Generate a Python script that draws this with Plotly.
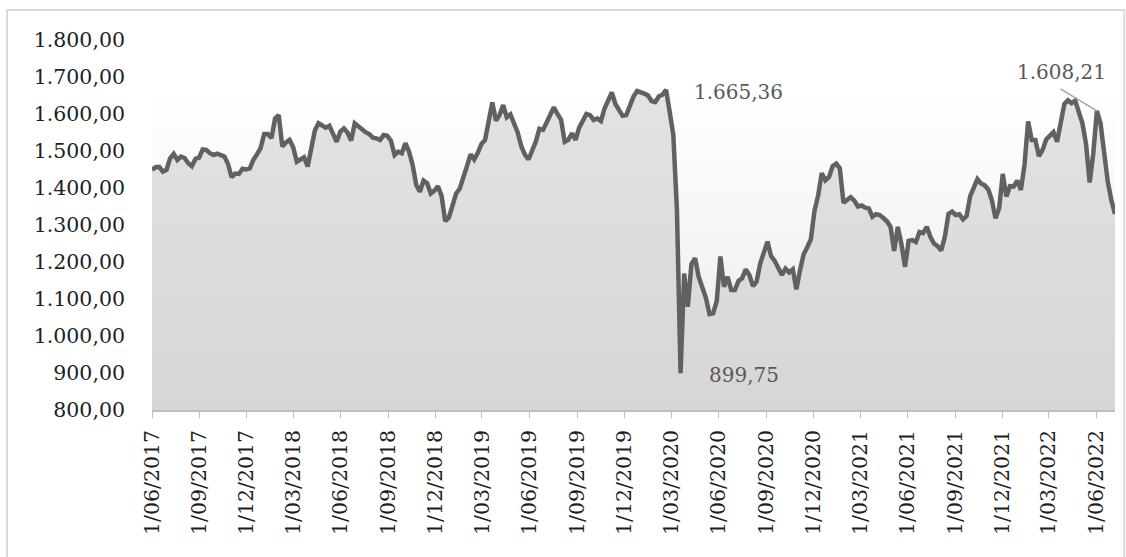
import numpy as np
import pandas as pd
import plotly.graph_objects as go

# Weekly index closes, first observation 1 June 2017
start_date = "2017-06-01"
weekly_close = [
    1449, 1456, 1457, 1444, 1449, 1480, 1492, 1476, 1485, 1481,
    1467, 1459, 1479, 1482, 1504, 1503, 1494, 1489, 1493, 1489,
    1485, 1465, 1429, 1439, 1438, 1452, 1450, 1453, 1476, 1491,
    1508, 1546, 1546, 1535, 1588, 1597, 1512, 1523, 1530, 1510,
    1471, 1477, 1483, 1458, 1516, 1556, 1575, 1569, 1563, 1568,
    1543, 1525, 1552, 1561, 1550, 1528, 1575, 1566, 1557, 1551,
    1546, 1536, 1534, 1530, 1543, 1541, 1528, 1489, 1498, 1494,
    1521, 1498, 1462, 1408, 1390, 1420, 1413, 1385, 1393, 1405,
    1378, 1310, 1320, 1349, 1385, 1398, 1425, 1459, 1491, 1477,
    1495, 1519, 1530, 1579, 1631, 1582, 1597, 1624, 1591, 1599,
    1577, 1550, 1513, 1490, 1477, 1501, 1525, 1560, 1557, 1577,
    1599, 1618, 1600, 1584, 1525, 1530, 1548, 1530, 1563, 1581,
    1600, 1597, 1584, 1588, 1581, 1615, 1636, 1658, 1627, 1613,
    1595, 1597, 1624, 1647, 1662, 1660, 1655, 1650, 1635, 1632,
    1648, 1652, 1665.36, 1606, 1543, 1340, 899.75, 1169, 1079, 1194,
    1210, 1160, 1131, 1103, 1059, 1061, 1095, 1215, 1133, 1160,
    1124, 1124, 1149, 1156, 1180, 1165, 1135, 1147, 1196, 1228,
    1255, 1216, 1203, 1184, 1165, 1182, 1172, 1180, 1126, 1178,
    1221, 1240, 1262, 1339, 1380, 1440, 1421, 1430, 1459, 1466,
    1453, 1360, 1369, 1375, 1366, 1350, 1353, 1347, 1345, 1322,
    1329, 1327, 1319, 1310, 1295, 1230, 1295, 1249, 1187, 1257,
    1259, 1254, 1281, 1278, 1295, 1268, 1250, 1243, 1231, 1268,
    1330, 1336, 1327, 1329, 1315, 1324, 1378, 1400, 1424, 1412,
    1407, 1396, 1367, 1318, 1345, 1438, 1377, 1405, 1404, 1420,
    1395, 1462, 1580, 1530, 1530, 1486, 1503, 1531, 1542, 1551,
    1525, 1570, 1627, 1637, 1629, 1636, 1602, 1575, 1519, 1415,
    1494, 1608.21, 1575, 1495, 1417, 1367, 1330,
]
dates = pd.date_range(start_date, periods=len(weekly_close), freq="7D")

# Quarterly axis ticks
tick_dates = pd.date_range("2017-06-01", "2022-06-01", freq="3MS")
tick_text = [f"{d.day}/{d.month:02d}/{d.year}" for d in tick_dates]

y_min, y_max, y_step = 800, 1800, 100
labelled_date = "2022-06-02"

SERIF = "DejaVu Serif"


def eu_number(v):
    s = f"{v:,.2f}"
    return s.replace(",", "#").replace(".", ",").replace("#", ".")


values = np.array(weekly_close, dtype=float)
top = float(values.max())

fig = go.Figure()

# Soft backdrop band up to the series high
fig.add_trace(go.Scatter(
    x=[dates[0], dates[-1]], y=[top, top],
    mode="lines", line=dict(width=0),
    fill="tozeroy",
    fillgradient=dict(type="vertical", start=y_min, stop=top,
                      colorscale=[[0, "#eaeaea"], [1, "#ffffff"]]),
    hoverinfo="skip", showlegend=False,
))

# Index area + line
fig.add_trace(go.Scatter(
    x=dates, y=values,
    mode="lines",
    line=dict(color="#616161", width=4.5),
    fill="tozeroy",
    fillgradient=dict(type="vertical", start=y_min, stop=top,
                      colorscale=[[0, "#d6d6d6"], [1, "#e3e3e3"]]),
    showlegend=False,
))

i_peak = int(values.argmax())
i_low = int(values.argmin())
i_jun = int(np.where(dates == pd.Timestamp(labelled_date))[0][0])

label_font = dict(family=SERIF, size=20, color="#595959")
annotations = [
    dict(x=dates[i_peak], y=values[i_peak], text=eu_number(values[i_peak]),
         showarrow=False, xshift=72, yshift=-2, font=label_font),
    dict(x=dates[i_low], y=values[i_low], text=eu_number(values[i_low]),
         showarrow=False, xshift=63, yshift=-2, font=label_font),
    dict(x=dates[i_jun], y=values[i_jun], text="",
         showarrow=True, arrowhead=0, arrowwidth=1.5, arrowcolor="#a6a6a6",
         ax=-38, ay=-23, standoff=0),
    dict(x=dates[i_jun], y=values[i_jun], text=eu_number(values[i_jun]),
         showarrow=False, xshift=-35, yshift=39, font=label_font),
]

fig.update_layout(
    width=1126, height=557,
    margin=dict(l=152, r=11, t=40, b=147),
    paper_bgcolor="white", plot_bgcolor="white",
    separators=",.",
    annotations=annotations,
    shapes=[dict(type="rect", xref="paper", yref="paper",
                 x0=-0.1506, x1=1.0097, y0=-0.41, y1=1.081,
                 line=dict(color="#d9d9d9", width=2), layer="below")],
)

fig.update_xaxes(
    type="date", range=[dates[0], dates[-1]],
    tickmode="array", tickvals=tick_dates, ticktext=tick_text,
    tickangle=-90, ticks="outside", ticklen=6, tickcolor="#bfbfbf",
    showline=True, linecolor="#bfbfbf", linewidth=1.5,
    showgrid=False, zeroline=False,
    ticklabelstandoff=4,
    tickfont=dict(family=SERIF, size=20.5, color="#1e1e1e"),
)
fig.update_yaxes(
    range=[y_min, y_max], dtick=y_step, tick0=y_min,
    tickformat=",.2f", separatethousands=True,
    showgrid=False, zeroline=False, showline=False, ticks="",
    ticklabelstandoff=26,
    tickfont=dict(family=SERIF, size=20.5, color="#1e1e1e"),
)

fig.write_html("out.html")
